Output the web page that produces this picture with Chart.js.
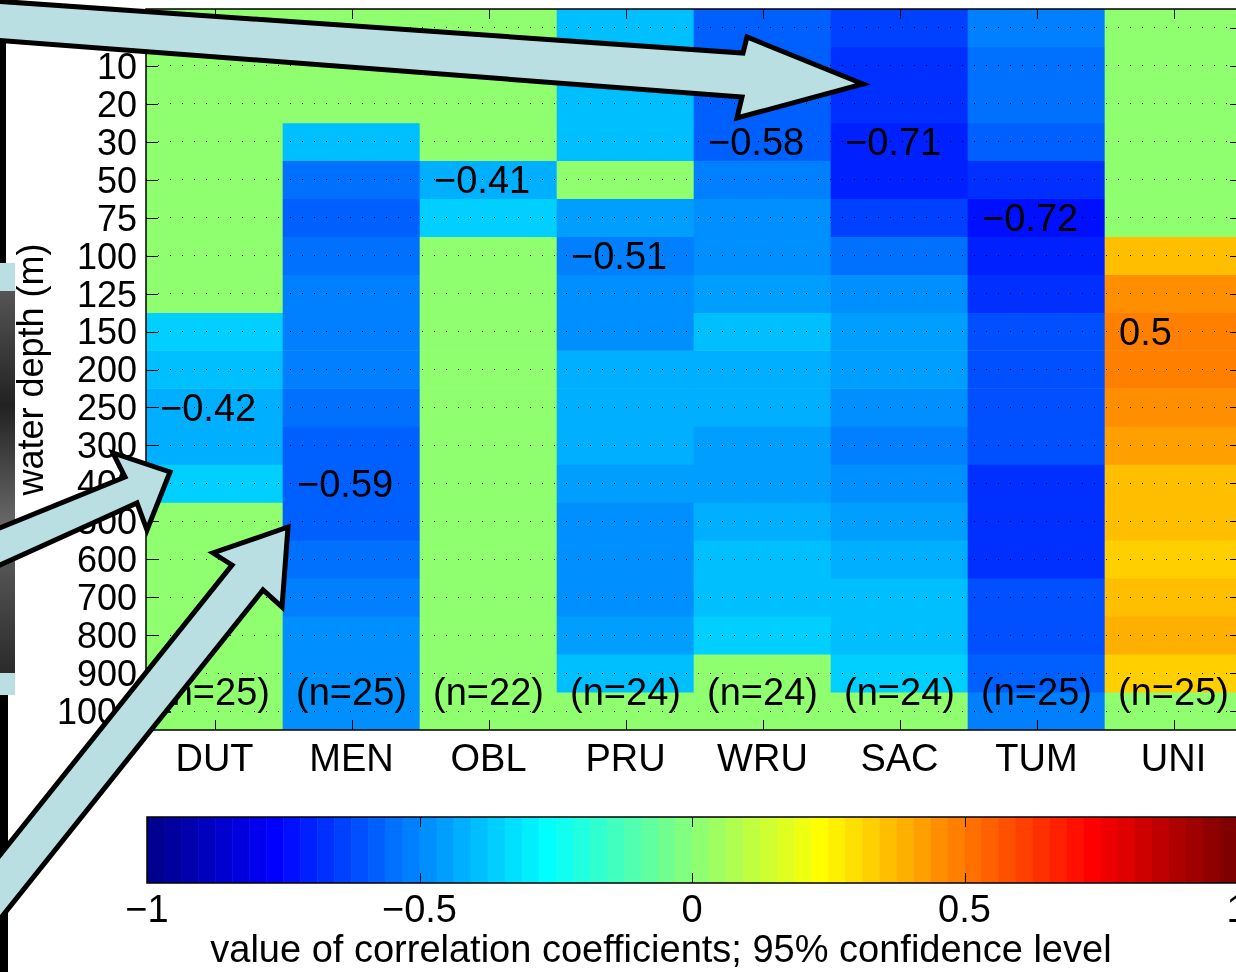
<!DOCTYPE html>
<html>
<head>
<meta charset="utf-8">
<script src="https://cdn.jsdelivr.net/npm/chart.js@4.4.1/dist/chart.umd.min.js"></script>
<style>
  html, body { margin: 0; padding: 0; background: #fff; overflow: hidden; }
  #wrap { position: relative; width: 1236px; height: 972px; overflow: hidden; background: #fff; }
  #heat { position: absolute; left: 0; top: 0; }
  #bar { position: absolute; left: 0; top: 790px; }
  #marks { position: absolute; left: 0; top: 0; pointer-events: none; }
</style>
</head>
<body>
<div id="wrap">
  <canvas id="heat" width="1250" height="790"></canvas>
  <canvas id="bar" width="1250" height="182"></canvas>
  <svg id="marks" width="1236" height="972">
    <!-- bits of the slide behind the figure -->
    <rect x="0" y="40" width="6" height="223" fill="#000"/>
    <rect x="0" y="263" width="15" height="28" fill="#b9dfe2"/>
    <defs>
      <linearGradient id="photo" x1="0" y1="0" x2="0" y2="1">
        <stop offset="0" stop-color="#555"/>
        <stop offset="0.3" stop-color="#222"/>
        <stop offset="0.6" stop-color="#666"/>
        <stop offset="1" stop-color="#2a2a2a"/>
      </linearGradient>
    </defs>
    <rect x="0" y="291" width="15" height="382" fill="url(#photo)"/>
    <rect x="0" y="673" width="15" height="22" fill="#b9dfe2"/>
    <rect x="0" y="695" width="8" height="277" fill="#000"/>
    <!-- arrows -->
    <g fill="#b9dfe2" stroke="#000" stroke-width="5" stroke-linejoin="miter">
      <polygon points="-20,0 743,53 747,37 863,84 737,118 742,97 -20,39"/>
      <polygon points="-20,536 125,477 113,453 170,472 147,530 137,503 -20,574"/>
      <polygon points="232,565 213,553 288,527 282,607 263,590 -20,944 -20,880"/>
    </g>
  </svg>
</div>
<script>
// depth rows (m) and stations
const depths = ['0', '10', '20', '30', '50', '75', '100', '125', '150', '200', '250', '300', '400', '500', '600', '700', '800', '900', '1000'];
const stations = ['DUT', 'MEN', 'OBL', 'PRU', 'WRU', 'SAC', 'TUM', 'UNI'];

// correlation per depth, 0 = not significant
const dut = [0, 0, 0, 0, 0, 0, 0, 0, -0.37, -0.40, -0.42, -0.42, -0.37, 0, 0, 0, 0, 0, 0];
const men = [0, 0, 0, -0.40, -0.55, -0.58, -0.55, -0.52, -0.52, -0.52, -0.55, -0.58, -0.59, -0.58, -0.55, -0.52, -0.49, -0.49, -0.48];
const obl = [0, 0, 0, 0, -0.41, -0.37, 0, 0, 0, 0, 0, 0, 0, 0, 0, 0, 0, 0, 0];
const pru = [-0.40, -0.40, -0.40, -0.40, 0, -0.46, -0.51, -0.49, -0.48, -0.43, -0.43, -0.43, -0.46, -0.49, -0.49, -0.49, -0.45, -0.40, 0];
const wru = [-0.57, -0.57, -0.57, -0.58, -0.52, -0.49, -0.49, -0.45, -0.40, -0.43, -0.43, -0.46, -0.46, -0.43, -0.40, -0.40, -0.37, 0, 0];
const sac = [-0.65, -0.68, -0.68, -0.71, -0.69, -0.63, -0.56, -0.49, -0.46, -0.46, -0.49, -0.52, -0.49, -0.46, -0.43, -0.40, -0.40, -0.37, 0];
const tum = [-0.52, -0.55, -0.55, -0.59, -0.68, -0.72, -0.71, -0.66, -0.62, -0.62, -0.62, -0.62, -0.68, -0.68, -0.68, -0.62, -0.60, -0.58, -0.52];
const uni = [0, 0, 0, 0, 0, 0, 0.36, 0.45, 0.49, 0.48, 0.46, 0.42, 0.36, 0.36, 0.33, 0.36, 0.39, 0.33, 0];
const columns = [dut, men, obl, pru, wru, sac, tum, uni];

// printed peak value per station and where it sits
const peakValues = [-0.42, -0.59, -0.41, -0.51, -0.58, -0.71, -0.72, 0.5];
const peakDepth = ['250', '400', '50', '100', '30', '30', '75', '150'];
const nCounts = [25, 25, 22, 24, 24, 24, 25, 25];

const cbTicks = [-1, -0.5, 0, 0.5, 1];
const cbTitle = 'value of correlation coefficients; 95% confidence level';

const FAMILY = '"Liberation Sans", Arial, Helvetica, sans-serif';
const FONT = { family: FAMILY, size: 38 };
const YFONT = { family: FAMILY, size: 36 };

// matlab jet(64), caxis [-1 1]
function u(j) {
    if (j < 1 || j > 47) return 0;
    if (j <= 16) return j / 16;
    if (j <= 31) return 1;
    return (48 - j) / 16;
}
function jet(v) {
    let i = Math.floor((v + 1) / 2 * 64) + 1;
    i = Math.min(64, Math.max(1, i));
    return `rgb(${Math.round(255 * u(i - 24))},${Math.round(255 * u(i - 8))},${Math.round(255 * u(i + 8))})`;
}
function fmt(v) {
    return v < 0 ? '\u2212' + String(Math.abs(v)) : String(v);
}

const framePlugin = {
    id: 'frame',
    afterDraw(chart) {
        const { ctx, chartArea: a, scales: { x, y } } = chart;
        ctx.save();
        ctx.strokeStyle = '#000';
        ctx.lineWidth = 1;
        ctx.beginPath();
        stations.forEach((s, j) => {
            const px = Math.round(x.getPixelForValue(j)) + 0.5;
            ctx.moveTo(px, a.top); ctx.lineTo(px, a.top + 10);
            ctx.moveTo(px, a.bottom); ctx.lineTo(px, a.bottom - 10);
        });
        depths.forEach((d, i) => {
            const py = Math.round(y.getPixelForValue(i + 0.5)) + 0.5;
            ctx.moveTo(a.left, py); ctx.lineTo(a.left + 12, py);
            ctx.moveTo(a.right, py); ctx.lineTo(a.right - 12, py);
        });
        ctx.stroke();
        ctx.lineWidth = 1.5;
        ctx.strokeRect(a.left, a.top, a.right - a.left, a.bottom - a.top);

        ctx.fillStyle = '#000';
        ctx.font = '38px ' + FAMILY;
        ctx.textBaseline = 'middle';
        const colW = x.getPixelForValue(1) - x.getPixelForValue(0);
        ctx.textAlign = 'left';
        peakValues.forEach((v, j) => {
            const i = depths.indexOf(peakDepth[j]);
            ctx.fillText(fmt(v), x.getPixelForValue(j) - colW / 2 + 14, y.getPixelForValue(i + 0.5) + 3);
        });
        ctx.textAlign = 'center';
        nCounts.forEach((n, j) => {
            ctx.fillText('(n=' + n + ')', x.getPixelForValue(j), y.getPixelForValue(depths.length - 1) + 2);
        });
        ctx.restore();
    }
};

new Chart(document.getElementById('heat'), {
    type: 'bar',
    data: {
        labels: stations,
        datasets: depths.map((d, i) => ({
            label: d,
            data: stations.map(() => [i, i + 1]),
            backgroundColor: columns.map(col => jet(col[i])),
            grouped: false,
            barPercentage: 1,
            categoryPercentage: 1,
            borderWidth: 0
        }))
    },
    options: {
        responsive: false,
        animation: false,
        layout: { padding: { left: 0, right: 8, top: 9, bottom: 0 } },
        plugins: { legend: { display: false }, tooltip: { enabled: false } },
        scales: {
            x: {
                type: 'category',
                offset: true,
                grid: { display: false, drawTicks: false },
                border: { display: false },
                ticks: { font: FONT, color: '#000', padding: 8, maxRotation: 0 },
                afterFit: s => { s.height = 60; s.paddingLeft = 0; s.paddingRight = 0; }
            },
            y: {
                type: 'linear',
                reverse: true,
                min: 0,
                max: depths.length,
                afterBuildTicks: s => { s.ticks = depths.map((d, i) => ({ value: i + 0.5 })); },
                ticks: { autoSkip: false, font: YFONT, color: '#000', padding: 9, labelOffset: 3, callback: (v, i) => depths[i] },
                grid: { color: '#000', lineWidth: 1, drawTicks: false, z: 1 },
                border: { display: false, dash: [1, 11] },
                title: { display: true, text: 'water depth (m)', font: YFONT, color: '#000', padding: { top: 11, bottom: 0 } },
                afterFit: s => { s.width = 146; s.paddingTop = 0; s.paddingBottom = 0; }
            }
        }
    },
    plugins: [framePlugin]
});

const barPlugin = {
    id: 'cbar',
    beforeDatasetsDraw(chart) {
        const { ctx, chartArea: a, scales: { x } } = chart;
        ctx.save();
        for (let k = 0; k < 64; k++) {
            const v0 = -1 + k / 32;
            const x0 = x.getPixelForValue(v0);
            const x1 = x.getPixelForValue(v0 + 1 / 32);
            ctx.fillStyle = jet(v0 + 1 / 64);
            ctx.fillRect(x0, a.top, x1 - x0 + 0.5, a.bottom - a.top);
        }
        ctx.strokeStyle = '#000';
        ctx.lineWidth = 1.5;
        ctx.strokeRect(a.left, a.top, a.right - a.left, a.bottom - a.top);
        ctx.lineWidth = 1;
        ctx.beginPath();
        cbTicks.forEach(t => {
            const px = Math.round(x.getPixelForValue(t)) + 0.5;
            ctx.moveTo(px, a.top); ctx.lineTo(px, a.top + 10);
            ctx.moveTo(px, a.bottom); ctx.lineTo(px, a.bottom - 10);
        });
        ctx.stroke();
        // axis label, set a bit left of centre as in the figure
        ctx.fillStyle = '#000';
        ctx.font = '38px ' + FAMILY;
        ctx.textAlign = 'center';
        ctx.textBaseline = 'middle';
        ctx.fillText(cbTitle, x.getPixelForValue(-0.057), chart.height - 20);
        ctx.restore();
    }
};

new Chart(document.getElementById('bar'), {
    type: 'scatter',
    data: { datasets: [{ data: [] }] },
    options: {
        responsive: false,
        animation: false,
        layout: { padding: { left: 147, right: 13, top: 27, bottom: 0 } },
        plugins: { legend: { display: false }, tooltip: { enabled: false } },
        scales: {
            x: {
                type: 'linear',
                min: -1,
                max: 1,
                afterBuildTicks: s => { s.ticks = cbTicks.map(v => ({ value: v })); },
                ticks: { font: FONT, color: '#000', padding: 6, callback: v => fmt(v) },
                grid: { display: false, drawTicks: false },
                border: { display: false },
                afterFit: s => { s.height = 89; s.paddingLeft = 0; s.paddingRight = 0; }
            },
            y: { display: false, min: 0, max: 1 }
        }
    },
    plugins: [barPlugin]
});
</script>
</body>
</html>
